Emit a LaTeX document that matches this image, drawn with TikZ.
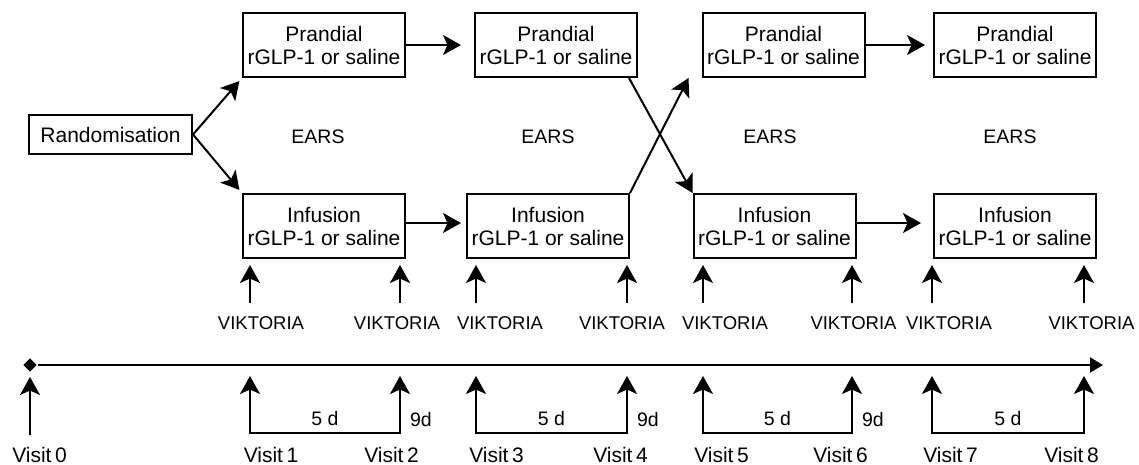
\documentclass[tikz,border=0pt]{standalone}
\usepackage{fontspec}
\setmainfont{Liberation Sans}
\usetikzlibrary{arrows.meta,shapes.geometric,positioning}

\begin{document}
\begin{tikzpicture}[x=1pt, y=-1pt, line width=2pt,
      >={Stealth[length=18pt, width=20pt, inset=4.5pt]},
      block/.style={rectangle, draw, minimum width=162pt, minimum height=64pt, align=center, inner sep=0pt, font=\fontsize{21}{23}\selectfont},
      randblock/.style={rectangle, draw, minimum width=163pt, minimum height=39pt, font=\fontsize{21}{23}\selectfont},
      phase/.style={font=\fontsize{19.5}{21}\selectfont},
      vik/.style={font=\fontsize{18.5}{20}\selectfont},
      visit/.style={font=\fontsize{21}{23}\selectfont, inner sep=1pt},
      days/.style={font=\fontsize{19.5}{21}\selectfont},
      node distance=232pt]
      \useasboundingbox (0,0) rectangle (1139,465);

      \node[randblock] (rand) at (110.5,134.5) {Randomisation};
      \node[block] (P1) at (324,45) {Prandial\\rGLP-1 or saline};
      \node[block, below of=P1, node distance=181pt] (I1) {Infusion\\rGLP-1 or saline};
      \node[block, right of=P1] (P2) {Prandial\\rGLP-1 or saline};
      \node[block, right of=P2, node distance=227.5pt] (P3) {Prandial\\rGLP-1 or saline};
      \node[block, right of=P3, node distance=231.5pt] (P4) {Prandial\\rGLP-1 or saline};
      \node[block, right of=I1, node distance=224pt] (I2) {Infusion\\rGLP-1 or saline};
      \node[block, right of=I2, node distance=226.5pt] (I3) {Infusion\\rGLP-1 or saline};
      \node[block, right of=I3, node distance=240.5pt] (I4) {Infusion\\rGLP-1 or saline};

      \node[phase] (ears1) at (318,137) {EARS};
      \node[phase] (ears2) at (548,137) {EARS};
      \node[phase] (ears3) at (770,137) {EARS};
      \node[phase] (ears4) at (1010,137) {EARS};

      \draw[->, shorten >=4pt] (rand.east) -- (P1.south west);
      \draw[->, shorten >=4pt] (rand.east) -- (I1.north west);
      \draw[->, shorten >=13pt] (P1) -- (P2);
      \draw[->, shorten >=8pt] (P3) -- (P4);
      \draw[->, shorten >=5pt] ([yshift=3pt]I1.east) -- ([yshift=3pt]I2.west);
      \draw[->, shorten >=12pt] ([yshift=3pt]I3.east) -- ([yshift=3pt]I4.west);
      % cross-over
      \draw[->] ([xshift=-9pt]P2.south east) -- (I3.north west);
      \draw[->] (I2.north east) -- ([xshift=-13pt]P3.south west);

      % time line
      \node[diamond, fill, inner sep=0pt, minimum size=14pt] (t0) at (30,365) {};
      \coordinate (tend) at (1103,365);
      \draw[-{Triangle[length=13pt, width=15pt]}] (t0) -- (tend);
      \coordinate (vb0) at (30,435);
      \coordinate (vt0) at (30,377);
      \draw[->] (vb0) -- (vt0);
      \node[visit] (vis0) at (39.5,454.5) {Visit\,0};

      \foreach \x/\vx/\kx/\n in {250/271/261/1, 400/391.5/397/2, 476/496.5/500/3, 627/620.5/622/4,
            703/721.5/725/5, 852/840.5/853.5/6, 932/950.5/949/7, 1084/1071.5/1091.5/8}{
        \coordinate (up\n) at (\x,303);
        \coordinate (tip\n) at (\x,265);
        \draw[->] (up\n) -- (tip\n);
        \node[vik] (vk\n) at (\kx,323) {VIKTORIA};
        \coordinate (vb\n) at (\x,433);
        \coordinate (vt\n) at (\x,376);
        \node[visit] (vis\n) at (\vx,454.5) {Visit\,\n};
      }

      \foreach \a/\b in {1/2,3/4,5/6}
        \draw[<->] (vt\a) -- (vb\a) -- node[days, above, inner sep=6pt] (five\a) {5 d} (vb\b)
              -- node[days, right, pos=0.23, inner sep=9pt] (nine\a) {9d} (vt\b);
      \draw[<->] (vt7) -- (vb7) -- node[days, above, inner sep=6pt] (five7) {5 d} (vb8) -- (vt8);

    \end{tikzpicture}
\end{document}
